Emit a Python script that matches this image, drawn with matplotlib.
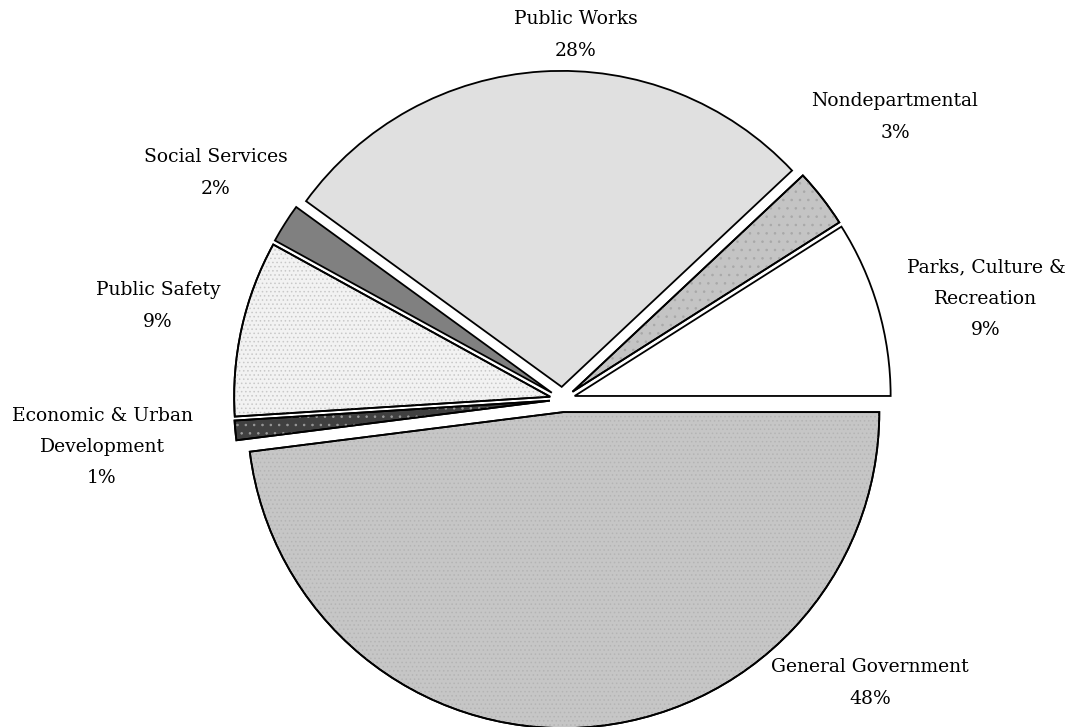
import matplotlib
matplotlib.use("Agg")
import matplotlib.pyplot as plt
from matplotlib.patches import Wedge

# slice data, counter-clockwise from 3 o'clock
departments = ["Parks, Culture &\nRecreation", "Nondepartmental", "Public Works",
               "Social Services", "Public Safety", "Economic & Urban\nDevelopment",
               "General Government"]
shares = [9, 3, 28, 2, 9, 1, 48]
face_colors = ["#ffffff", "#c4c4c4", "#e0e0e0", "#808080", "#f2f2f2", "#404040", "#c6c6c6"]
hatches = [None, "..", None, None, "....", "..", "...."]
hatch_colors = [None, "#a8a8a8", None, None, "#c8c8c8", "#9a9a9a", "#b4b4b4"]

# label anchor points (pixel coords, y from top)
label_xy = [(986, 299), (895, 117), (576, 35), (216, 173), (158, 306), (102, 447), (870, 683)]

plt.rcParams["hatch.linewidth"] = 0.6

W, H = 1070, 727
cx, cy, r = 562.5, 399.5, 316   # pie centre / radius in pixels

fig = plt.figure(figsize=(W / 100, H / 100), dpi=100)
ax = fig.add_axes([0, 0, 1, 1])

wedges, _ = ax.pie(shares, startangle=0, counterclock=True, radius=1,
                   explode=[0.04] * len(shares), colors=face_colors,
                   wedgeprops=dict(edgecolor="black", linewidth=1.3))

# axes in units of the radius, so that the pie lands where it is in the picture
ax.set_xlim(-cx / r, (W - cx) / r)
ax.set_ylim(-(H - cy) / r, cy / r)
ax.set_aspect("equal")
ax.axis("off")

# dotted textures laid over some slices
for w, h, hc in zip(wedges, hatches, hatch_colors):
    if h is None:
        continue
    ax.add_patch(Wedge(w.center, w.r, w.theta1, w.theta2, facecolor="none",
                       edgecolor=hc, linewidth=0, hatch=h))
    ax.add_patch(Wedge(w.center, w.r, w.theta1, w.theta2, facecolor="none",
                       edgecolor="black", linewidth=1.3))

for name, val, (x, y) in zip(departments, shares, label_xy):
    ax.text((x - cx) / r, (cy - y) / r, f"{name}\n{val}%", ha="center", va="center",
            fontsize=13.5, family="DejaVu Serif", linespacing=1.95)

fig.savefig("out.png", dpi=100)
